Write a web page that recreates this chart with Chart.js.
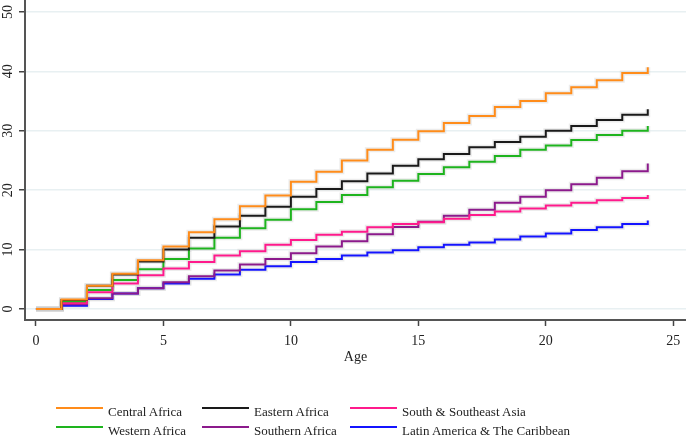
<!DOCTYPE html>
<html lang="en">
<head>
<meta charset="UTF-8">
<title>Cumulative by age</title>
<script src="https://cdn.jsdelivr.net/npm/chart.js"></script>
<style>
  html, body { margin: 0; padding: 0; background: #fff; }
  #wrap { position: relative; width: 686px; height: 437px; }
  #legend { position: absolute; left: 0; top: 0; width: 686px; height: 437px; pointer-events: none;
            font-family: "Liberation Serif", serif; font-size: 13px; color: #222; }
  .swatch { position: absolute; width: 47px; height: 2px; }
  .label { position: absolute; line-height: 16px; white-space: nowrap; }
</style>
</head>
<body>
<div id="wrap">
  <canvas id="myChart" width="686" height="437"></canvas>
  <div id="legend"></div>
</div>
<script>
// ages 0..24
const ages = [0,1,2,3,4,5,6,7,8,9,10,11,12,13,14,15,16,17,18,19,20,21,22,23,24];
const xTicks = [0, 5, 10, 15, 20, 25];
const yTicks = [0, 10, 20, 30, 40, 50];

const centralAfrica = [0,1.6,3.9,5.95,8.2,10.5,12.9,15.1,17.3,19.1,21.4,23.1,25.0,26.8,28.5,29.9,31.3,32.5,34.0,35.0,36.3,37.3,38.5,39.7,40.7];
const easternAfrica = [0,1.5,3.9,5.8,8.0,10.0,12.0,13.9,15.7,17.2,18.9,20.2,21.5,22.8,24.1,25.2,26.1,27.2,28.1,29.0,30.0,30.8,31.8,32.7,33.6];
const southAsia     = [0,0.95,2.8,4.3,5.7,6.8,7.9,9.0,9.7,10.8,11.6,12.5,13.0,13.75,14.3,14.6,15.2,15.8,16.4,16.9,17.4,17.9,18.3,18.7,19.2];
const westernAfrica = [0,1.2,3.2,4.9,6.7,8.4,10.2,12.0,13.6,15.0,16.8,18.0,19.2,20.5,21.6,22.7,23.85,24.8,25.75,26.8,27.5,28.45,29.3,30.0,30.8];
const southernAfrica= [0,0.8,1.8,2.6,3.5,4.5,5.5,6.5,7.5,8.4,9.4,10.5,11.4,12.6,13.8,14.7,15.7,16.7,17.9,18.9,20.0,21.0,22.1,23.2,24.5];
const latinAmerica  = [0,0.55,1.7,2.6,3.5,4.3,5.1,5.8,6.6,7.2,7.9,8.4,9.0,9.5,9.9,10.4,10.8,11.2,11.7,12.2,12.7,13.3,13.75,14.3,14.9];

// legend order: row 1 then row 2
const seriesNames  = ["Central Africa", "Eastern Africa", "South & Southeast Asia",
                      "Western Africa", "Southern Africa", "Latin America & The Caribbean"];
const seriesValues = [centralAfrica, easternAfrica, southAsia, westernAfrica, southernAfrica, latinAmerica];
const seriesColors = ["#ff8c1a", "#1a1a1a", "#ff1a8c", "#1eb41e", "#8c1a8c", "#1414ff"];

const serif = "'Liberation Serif', serif";

function toPoints(vals) {
  return ages.map((a, i) => ({ x: a, y: vals[i] }));
}

// main lines first (drawn on top), grey bands after (drawn underneath)
const datasets = [];
seriesValues.forEach((vals, i) => {
  datasets.push({
    label: seriesNames[i],
    data: toPoints(vals),
    borderColor: seriesColors[i],
    borderWidth: 2,
    stepped: true,
    pointRadius: 0,
    fill: false
  });
});
seriesValues.forEach((vals, i) => {
  datasets.push({
    label: seriesNames[i] + " band",
    data: toPoints(vals),
    borderColor: "rgba(200,200,200,0.35)",
    borderWidth: 5,
    stepped: true,
    pointRadius: 0,
    fill: false
  });
});

const config = {
  type: 'line',
  data: { datasets },
  options: {
    responsive: false,
    animation: false,
    layout: { padding: { left: 0, right: 0, top: 0, bottom: 67 } },
    plugins: { legend: { display: false }, tooltip: { enabled: false } },
    scales: {
      x: {
        type: 'linear',
        min: -0.43,
        max: 25.5,
        afterBuildTicks: s => { s.ticks = xTicks.map(v => ({ value: v })); },
        afterFit: s => { s.height = 50; s.paddingLeft = 0; s.paddingRight = 0; },
        grid: { drawOnChartArea: false, drawTicks: true, tickLength: 6, tickColor: '#444', tickWidth: 1.5 },
        border: { color: '#555', width: 2 },
        ticks: { font: { family: serif, size: 14 }, color: '#222', padding: 7, maxRotation: 0 },
        title: { display: true, text: 'Age', font: { family: serif, size: 14 }, color: '#222', padding: { top: 0, bottom: 4 } }
      },
      y: {
        min: -1.85,
        max: 52,
        afterBuildTicks: s => { s.ticks = yTicks.map(v => ({ value: v })); },
        afterFit: s => { s.width = 25; s.paddingTop = 0; s.paddingBottom = 0; },
        grid: { color: '#e8f0f2', lineWidth: 1.5, drawTicks: true, tickLength: 6, tickColor: '#444', tickWidth: 1.5 },
        border: { color: '#555', width: 2 },
        ticks: { font: { family: serif, size: 14 }, color: '#222', padding: 4, minRotation: 90, maxRotation: 90, crossAlign: 'center' }
      }
    }
  }
};

const myChart = new Chart(document.getElementById('myChart'), config);

// legend: 3 columns x 2 rows, built from the series arrays
const legend = document.getElementById('legend');
const colX = [56, 202, 350];
const rowY = [408, 427];
seriesNames.forEach((name, i) => {
  const col = i % 3, row = Math.floor(i / 3);
  const sw = document.createElement('div');
  sw.className = 'swatch';
  sw.style.left = colX[col] + 'px';
  sw.style.top = (rowY[row] - 1) + 'px';
  sw.style.background = seriesColors[i];
  legend.appendChild(sw);
  const lb = document.createElement('div');
  lb.className = 'label';
  lb.style.left = (colX[col] + 52) + 'px';
  lb.style.top = (rowY[row] - 4) + 'px';
  lb.textContent = name;
  legend.appendChild(lb);
});
</script>
</body>
</html>
